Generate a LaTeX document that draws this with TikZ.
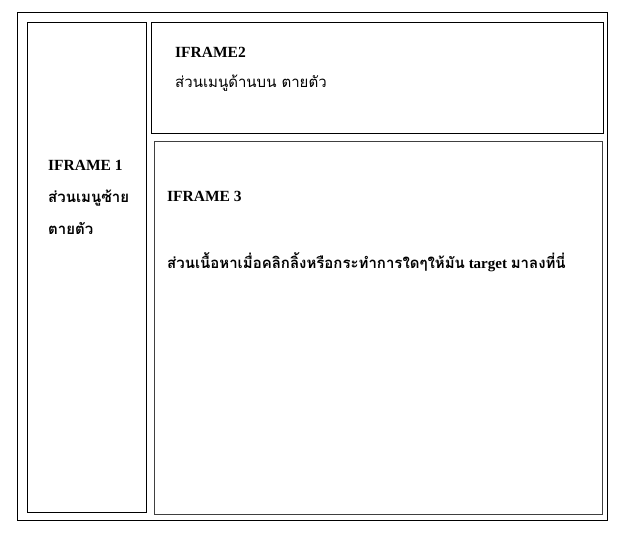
\documentclass[tikz,border=0pt]{standalone}
\usepackage{fontspec}
\setmainfont{Liberation Serif}
\newfontfamily\thaifont[Script=Thai]{Loma}

\begin{document}
\begin{tikzpicture}[x=1pt,y=-1pt,frame/.style={draw=black,line width=0.9pt}]
  \useasboundingbox[fill=white] (0,0) rectangle (629,548);
  % outer frame and the three iframes
  \draw [frame] (17,12) rectangle (607,520);
  \draw [frame] (27,22) rectangle (146,512);
  \draw [frame] (151,22) rectangle (603,133);
  \draw [frame, draw=black!75] (154,141) rectangle (602,514);

  \draw (175,58) node[anchor=base west,inner sep=0pt] (iftop) {\fontsize{15.5}{18}\selectfont\bfseries IFRAME2};
  \draw (175,88) node[anchor=base west,inner sep=0pt] (iftoptext) {\fontsize{15}{18}\selectfont\thaifont ส่วนเมนูด้านบน ตายตัว};

  \draw (48,171) node[anchor=base west,inner sep=0pt] (ifleft) {\fontsize{15.5}{18}\selectfont\bfseries IFRAME 1};
  \draw (48,203) node[anchor=base west,inner sep=0pt] (iflefttext) {\fontsize{15}{18}\selectfont\thaifont\bfseries ส่วนเมนูซ้าย};
  \draw (48,234) node[anchor=base west,inner sep=0pt] (ifleftmore) {\fontsize{15}{18}\selectfont\thaifont\bfseries ตายตัว};

  \draw (167,202) node[anchor=base west,inner sep=0pt] (ifmain) {\fontsize{15.5}{18}\selectfont\bfseries IFRAME 3};
  \draw (167,268) node[anchor=base west,inner sep=0pt] (ifmaintext) {\fontsize{15}{18}\selectfont\bfseries{\thaifont ส่วนเนื้อหาเมื่อคลิกลิ้งหรือกระทำการใดๆให้มัน} target {\thaifont มาลงที่นี่}};
\end{tikzpicture}
\end{document}
